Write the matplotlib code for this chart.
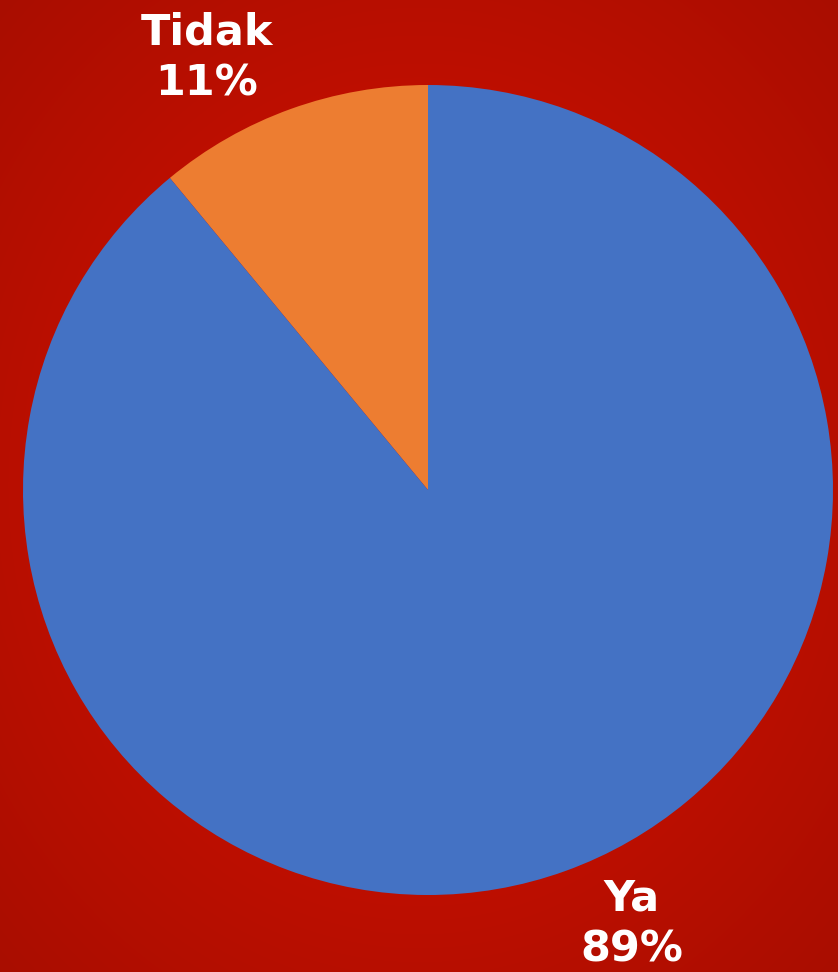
import numpy as np
import matplotlib.pyplot as plt

# data
labels = ["Tidak", "Ya"]
shares = [11, 89]
colors = ["#ED7D31", "#4472C4"]

W, H = 838, 972
fig = plt.figure(figsize=(W / 100, H / 100), dpi=100)
ax = fig.add_axes([0, 0, 1, 1])

# red background with a soft darker edge
yy, xx = np.mgrid[0:H, 0:W]
d = np.hypot((xx - W / 2) / (W / 2), (yy - H / 2) / (H / 2))
shade = np.clip(1 - 0.18 * (d - 0.7), 0.8, 1.0)
base = np.array([0.76, 0.06, 0.0])
bg = shade[..., None] * base
ax.imshow(bg, extent=(0, W, 0, H), origin="lower", zorder=0)

wedges, _ = ax.pie(shares, colors=colors, startangle=90, counterclock=True,
                   center=(428, 482), radius=405, frame=True,
                   wedgeprops=dict(linewidth=0, zorder=2))

ax.set_xlim(0, W)
ax.set_ylim(0, H)
ax.set_aspect("equal")
ax.axis("off")

label_pos = [(207, 914), (632, 48)]
for (x, y), lab, val in zip(label_pos, labels, shares):
    ax.text(x, y, f"{lab}\n{val}%", ha="center", va="center", color="white",
            fontsize=31, fontweight="bold", family="DejaVu Sans",
            linespacing=1.25, zorder=3)

fig.savefig("out.png", dpi=100)
